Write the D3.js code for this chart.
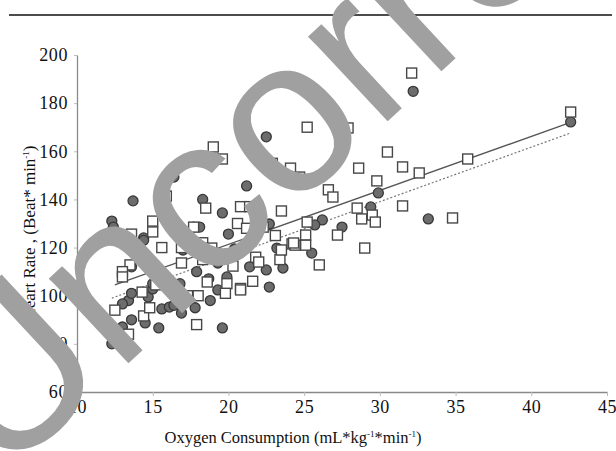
<!DOCTYPE html>
<html>
<head>
<meta charset="utf-8">
<script src="https://cdn.jsdelivr.net/npm/d3@7"></script>
<style>
  body { margin: 0; background: #fff; }
  text { font-family: "Liberation Serif", "DejaVu Serif", serif; }
</style>
</head>
<body>
<div id="chart-area"></div>
<script>
// group 1 (filled circles): [oxygen, heart rate]
var circleData = [
  [12.3,131],[12.4,128.5],[12.3,80],[13,87],[13.7,139.4],[16.4,149.3],[22.5,166],[22.3,156],
  [24.5,146.8],[21.2,145.6],[18.3,140],[19.6,134.4],[17.7,128.5],[18.1,128.5],[22.7,129.8],
  [14.4,124],[20,125.6],[15.4,86.6],[19.6,86.6],[22.7,103.6],[13.6,90],[14.5,88.7],[15.6,94.5],
  [16.1,95.3],[16.4,96],[16.9,92.8],[17.8,95],[18.8,98],[13.4,98],[13.6,101],[13,96.6],
  [14.7,99.5],[15,102.8],[16.1,105.7],[16.8,105],[18.7,107],[19.3,102.4],[19.9,107.8],
  [21.4,112],[22.5,110.7],[23.6,111.5],[23.2,119.8],[20.4,119.4],[19.3,113.6],[17,119],
  [17.9,110],[13.6,112],[15,105],[16.8,101],[14.4,123],[32.2,184.9],[24.4,146.4],[29.9,142.7],
  [29.4,136.9],[33.2,131.9],[26.2,131.5],[27.5,128.5],[25.7,129.4],[25.5,117.7],[23.5,118.3],
  [42.6,172.2]
];

// group 2 (open squares)
var squareData = [
  [18.7,156],[15.9,141.4],[15.6,136.4],[15,131],[17.7,128.5],[19,161.8],[19.6,156.8],[22.9,155],
  [24.1,153],[18.5,136.4],[20.8,137],[21.4,137],[23.5,135.2],[20.6,130],[21.2,128],[22.3,128.5],
  [13.6,125.6],[15,126.5],[18.3,122],[23.1,125],[24.2,121.5],[15.6,120],[16.9,120],[13.4,84],
  [12.5,94],[17.9,88],[21.6,106],[20.8,103],[14.4,91.6],[14.8,95],[18,100],[17.3,100],
  [15.2,104.5],[16.9,113.6],[18.6,105.7],[19.9,105],[19.8,101],[20.8,102.4],[20.3,112.3],
  [21.8,116],[22,114],[23.4,115],[23.5,119],[24.4,121],[18.9,119.8],[18.3,115],[13.5,112.8],
  [13,110],[13,107.8],[14.3,101.5],[25.2,170],[27.9,169.7],[30.5,159.7],[28.6,153],[31.5,153.5],
  [32.6,151],[35.8,156.8],[24.7,149.3],[29.8,147.7],[26.6,144],[26.9,141],[28.5,136.4],
  [29.5,133.5],[28.8,131.9],[29.7,130.6],[31.5,137.3],[34.8,132.3],[27.2,125.2],[25.2,130.6],
  [25.1,125.2],[25.1,121],[24.3,121.9],[29,119.8],[26,112.8],[42.6,176.3],[32.1,192.5]
];

// trend lines (end points)
var circleFit = [[12.5,104.5],[42.6,172]];
var squareFit = [[12.3,99],[42.6,167.6]];

var xTicks = [10,15,20,25,30,35,40,45];
var yTicks = [60,80,100,120,140,160,180,200];

var W = 616, H = 451;
var svg = d3.select("#chart-area").append("svg")
  .attr("width", W).attr("height", H);

var defs = svg.append("defs");
defs.append("filter").attr("id", "soft")
  .append("feGaussianBlur").attr("stdDeviation", 0.6);

// top rule
svg.append("line")
  .attr("x1", 9).attr("x2", 612).attr("y1", 15).attr("y2", 15)
  .attr("stroke", "#111").attr("stroke-width", 1.4);

var x = d3.scaleLinear().domain([10, 45]).range([77, 607]);
var y = d3.scaleLinear().domain([60, 200]).range([392, 55]);

var xAxis = svg.append("g")
  .attr("transform", "translate(0," + y(60) + ")")
  .call(d3.axisBottom(x).tickValues(xTicks).tickSize(4).tickPadding(4).tickSizeOuter(0));

var yAxis = svg.append("g")
  .attr("transform", "translate(" + x(10) + ",0)")
  .call(d3.axisLeft(y).tickValues(yTicks).tickSize(3).tickPadding(6).tickSizeOuter(0));

[xAxis, yAxis].forEach(function(a) {
  a.select(".domain").attr("stroke", "#8a8a8a").attr("stroke-width", 1.3);
  a.selectAll(".tick line").attr("stroke", "#bbb");
  a.selectAll(".tick text")
    .attr("fill", "#111")
    .style("font-family", "'Liberation Serif', serif")
    .style("font-size", "18px")
    .style("letter-spacing", "0.6px");
});

// axis titles
var xt = svg.append("text")
  .attr("x", 293).attr("y", 443)
  .attr("text-anchor", "middle")
  .attr("fill", "#111")
  .style("font-size", "16.5px");
xt.append("tspan").text("Oxygen Consumption (mL*kg");
xt.append("tspan").attr("dy", -6).style("font-size", "9px").text("-1");
xt.append("tspan").attr("dy", 6).text("*min");
xt.append("tspan").attr("dy", -6).style("font-size", "9px").text("-1");
xt.append("tspan").attr("dy", 6).text(")");

var yt = svg.append("text")
  .attr("transform", "translate(35,233) rotate(-90)")
  .attr("text-anchor", "middle")
  .attr("fill", "#111")
  .style("font-size", "17px");
yt.append("tspan").text("Heart Rate , (Beat* min");
yt.append("tspan").attr("dy", -6).style("font-size", "9px").text("-1");
yt.append("tspan").attr("dy", 6).text(")");

var plot = svg.append("g").attr("filter", "url(#soft)");

var line = d3.line().x(function(d) { return x(d[0]); }).y(function(d) { return y(d[1]); });

plot.append("path").datum(squareFit)
  .attr("d", line)
  .attr("fill", "none")
  .attr("stroke", "#777")
  .attr("stroke-width", 1.2)
  .attr("stroke-dasharray", "2,2");

plot.append("path").datum(circleFit)
  .attr("d", line)
  .attr("fill", "none")
  .attr("stroke", "#555")
  .attr("stroke-width", 1.3);

plot.selectAll("circle")
  .data(circleData)
  .enter()
  .append("circle")
  .attr("cx", function(d) { return x(d[0]); })
  .attr("cy", function(d) { return y(d[1]); })
  .attr("r", 5)
  .attr("fill", "#6c6c6c")
  .attr("stroke", "#383838")
  .attr("stroke-width", 1.3);

plot.selectAll("rect.sq")
  .data(squareData)
  .enter()
  .append("rect")
  .attr("class", "sq")
  .attr("x", function(d) { return x(d[0]) - 5; })
  .attr("y", function(d) { return y(d[1]) - 5; })
  .attr("width", 10)
  .attr("height", 10)
  .attr("fill", "#fff")
  .attr("stroke", "#474747")
  .attr("stroke-width", 1.4);

// watermark
svg.append("text")
  .attr("transform", "translate(1,482) rotate(-43)")
  .attr("fill", "#a0a0a0")
  .style("font-family", "'Liberation Sans', sans-serif")
  .style("font-size", "220px")
  .text("Uncorrected");
</script>
</body>
</html>
